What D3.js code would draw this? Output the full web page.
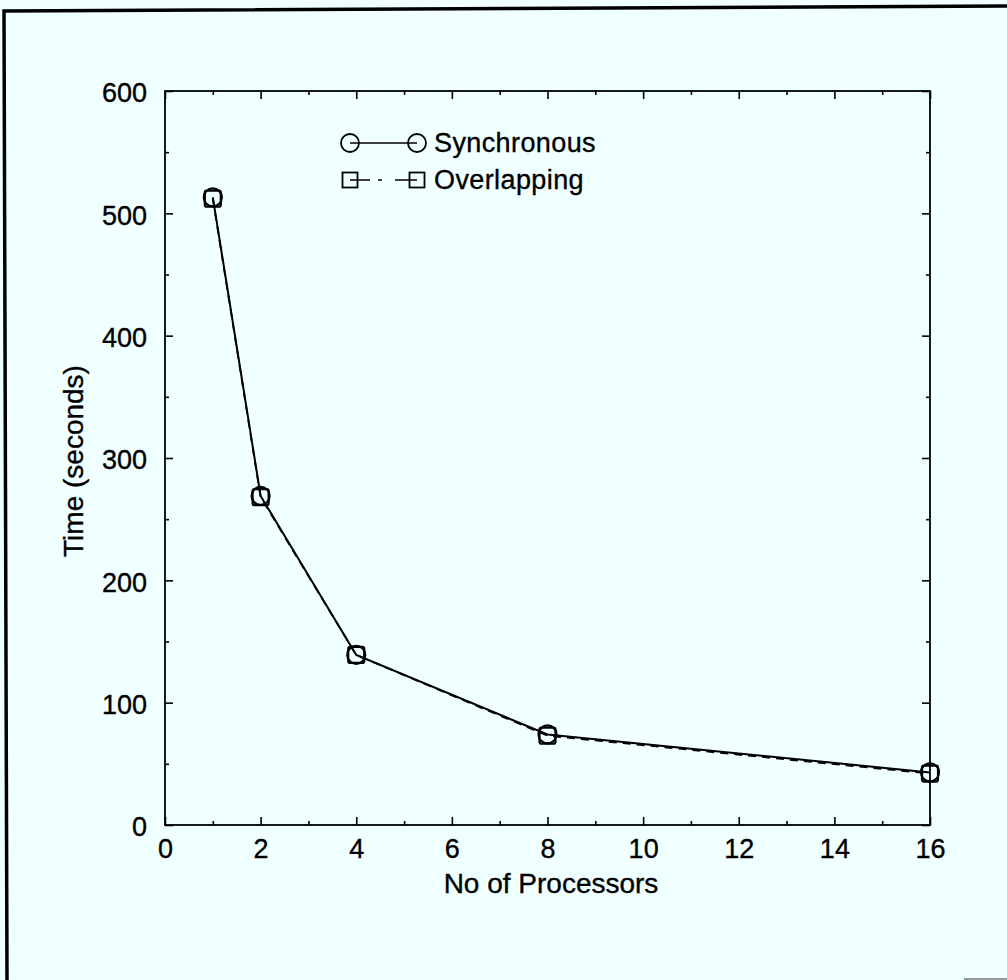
<!DOCTYPE html>
<html>
<head>
<meta charset="utf-8">
<script src="https://cdn.jsdelivr.net/npm/d3@7"></script>
<style>
  html, body { margin: 0; padding: 0; background: #f0ffff; }
  svg { display: block; }
  text { font-family: "Liberation Sans", Arial, Helvetica, sans-serif; fill: #000; stroke: #000; stroke-width: 0.35px; }
</style>
</head>
<body>
<svg id="chart" width="1007" height="980"></svg>
<script>
// Run time versus number of processors for the two communication schemes
const processors = [1, 2, 4, 8, 16];
const synchronous = [513, 269, 139, 74, 43];
const overlapping = [512, 268, 139, 73, 42];
const seriesNames = ["Synchronous", "Overlapping"];
const xMajorTicks = [0, 2, 4, 6, 8, 10, 12, 14, 16];
const xMinorTicks = [1, 3, 5, 7, 9, 11, 13, 15];
const yMajorTicks = [0, 100, 200, 300, 400, 500, 600];
const yMinorTicks = [50, 150, 250, 350, 450, 550];

const svg = d3.select("#chart");
const W = 1007, H = 980;
const plotLeft = 165, plotRight = 930, plotTop = 91, plotBottom = 825;
const tickFont = 27, titleFont = 28, legendFont = 27;

svg.append("rect").attr("width", W).attr("height", H).attr("fill", "#f0ffff");

// outer frame: heavy top and left rules
svg.append("path")
  .attr("d", "M1007,6 L4,11 L7,980")
  .attr("fill", "none").attr("stroke", "#000").attr("stroke-width", 3.5);
svg.append("line")
  .attr("x1", 964).attr("y1", 979).attr("x2", 1007).attr("y2", 979)
  .attr("stroke", "#777").attr("stroke-width", 1.5);

const x = d3.scaleLinear().domain([0, 16]).range([plotLeft, plotRight]);
const y = d3.scaleLinear().domain([0, 600]).range([plotBottom, plotTop]);

function styleAxis(g) {
  g.select(".domain").remove();
  g.selectAll("line").attr("stroke", "#000").attr("stroke-width", 1.6);
  g.selectAll("text")
    .style("font-size", tickFont + "px")
    .style("font-family", "'Liberation Sans', Arial, Helvetica, sans-serif")
    .attr("fill", "#000");
}

// bottom axis with labels, inward ticks
svg.append("g").attr("transform", `translate(0,${plotBottom})`)
  .call(d3.axisBottom(x).tickValues(xMajorTicks).tickSize(-8).tickPadding(13.8).tickFormat(d3.format("d")))
  .call(styleAxis);
svg.append("g").attr("transform", `translate(0,${plotBottom})`)
  .call(d3.axisBottom(x).tickValues(xMinorTicks).tickSize(-4).tickFormat(""))
  .call(styleAxis);
// top axis, ticks only
svg.append("g").attr("transform", `translate(0,${plotTop})`)
  .call(d3.axisTop(x).tickValues(xMajorTicks).tickSize(-8).tickFormat(""))
  .call(styleAxis);
svg.append("g").attr("transform", `translate(0,${plotTop})`)
  .call(d3.axisTop(x).tickValues(xMinorTicks).tickSize(-4).tickFormat(""))
  .call(styleAxis);
// left axis with labels
const yAxisG = svg.append("g").attr("transform", `translate(${plotLeft},0)`)
  .call(d3.axisLeft(y).tickValues(yMajorTicks).tickSize(-8).tickPadding(18).tickFormat(d3.format("d")))
  .call(styleAxis);
yAxisG.selectAll("text").attr("dy", "0.40em");
svg.append("g").attr("transform", `translate(${plotLeft},0)`)
  .call(d3.axisLeft(y).tickValues(yMinorTicks).tickSize(-4).tickFormat(""))
  .call(styleAxis);
// right axis, ticks only
svg.append("g").attr("transform", `translate(${plotRight},0)`)
  .call(d3.axisRight(y).tickValues(yMajorTicks).tickSize(-8).tickFormat(""))
  .call(styleAxis);
svg.append("g").attr("transform", `translate(${plotRight},0)`)
  .call(d3.axisRight(y).tickValues(yMinorTicks).tickSize(-4).tickFormat(""))
  .call(styleAxis);

// plot frame
svg.append("rect")
  .attr("x", plotLeft).attr("y", plotTop)
  .attr("width", plotRight - plotLeft).attr("height", plotBottom - plotTop)
  .attr("fill", "none").attr("stroke", "#000").attr("stroke-width", 1.8);

// axis titles
svg.append("text")
  .attr("x", 551).attr("y", 893)
  .attr("text-anchor", "middle")
  .style("font-size", titleFont + "px")
  .text("No of Processors");
svg.append("text")
  .attr("transform", `translate(83,461) rotate(-90)`)
  .attr("text-anchor", "middle")
  .style("font-size", titleFont + "px")
  .text("Time (seconds)");

const line = d3.line().x(d => x(d[0])).y(d => y(d[1]));
const syncPts = processors.map((p, i) => [p, synchronous[i]]);
const overPts = processors.map((p, i) => [p, overlapping[i]]);

const R = 9, S = 16;

// overlapping: dashed line with square markers
svg.append("path").datum(overPts)
  .attr("d", line).attr("fill", "none")
  .attr("stroke", "#000").attr("stroke-width", 1.8).attr("stroke-dasharray", "8,6");
svg.selectAll(".sq").data(overPts).enter().append("rect")
  .attr("class", "sq")
  .attr("x", d => x(d[0]) - S / 2).attr("y", d => y(d[1]) - S / 2)
  .attr("width", S).attr("height", S).attr("rx", 2)
  .attr("fill", "none").attr("stroke", "#000").attr("stroke-width", 2.2);

// synchronous: solid line with circle markers
svg.append("path").datum(syncPts)
  .attr("d", line).attr("fill", "none")
  .attr("stroke", "#000").attr("stroke-width", 2);
svg.selectAll(".ci").data(syncPts).enter().append("circle")
  .attr("class", "ci")
  .attr("cx", d => x(d[0])).attr("cy", d => y(d[1])).attr("r", R)
  .attr("fill", "none").attr("stroke", "#000").attr("stroke-width", 2.2);

// legend
const lg = svg.append("g");
const lx1 = 350, lx2 = 417, ly = [143, 180];
lg.append("line").attr("x1", lx1).attr("y1", ly[0]).attr("x2", lx2).attr("y2", ly[0])
  .attr("stroke", "#000").attr("stroke-width", 1.6);
[lx1, lx2].forEach(cx => lg.append("circle").attr("cx", cx).attr("cy", ly[0]).attr("r", R)
  .attr("fill", "none").attr("stroke", "#000").attr("stroke-width", 1.8));
lg.append("line").attr("x1", lx1).attr("y1", ly[1]).attr("x2", lx2).attr("y2", ly[1])
  .attr("stroke", "#000").attr("stroke-width", 1.6).attr("stroke-dasharray", "20,8,4,13,30");
[lx1, lx2].forEach(cx => lg.append("rect").attr("x", cx - 7.5).attr("y", ly[1] - 7.5)
  .attr("width", 15).attr("height", 15)
  .attr("fill", "none").attr("stroke", "#000").attr("stroke-width", 1.8));
seriesNames.forEach((name, i) => {
  lg.append("text").attr("x", 434).attr("y", ly[i] + 9)
    .style("font-size", legendFont + "px").style("letter-spacing", "0.4px")
    .text(name);
});
</script>
</body>
</html>
